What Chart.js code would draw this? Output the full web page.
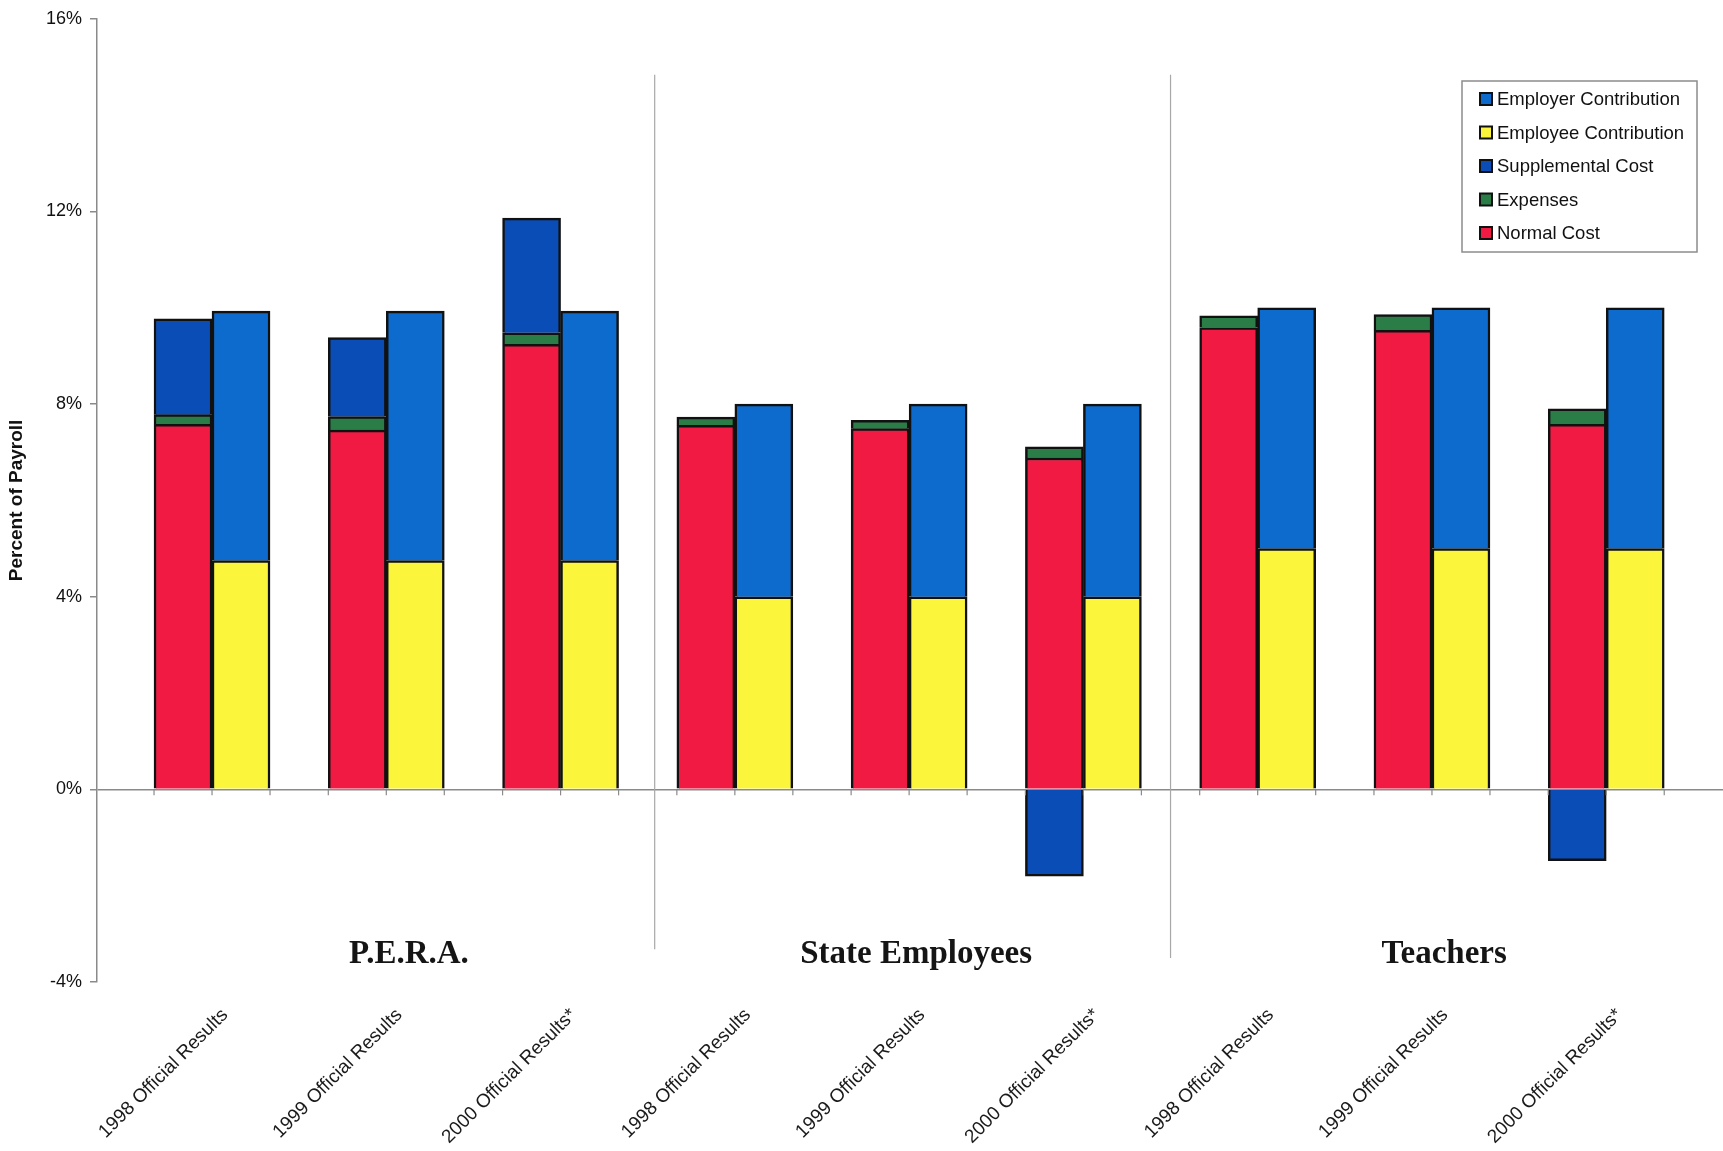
<!DOCTYPE html>
<html>
<head>
<meta charset="utf-8">
<title>Contribution Sufficiency</title>
<script src="https://cdn.jsdelivr.net/npm/chart.js@4.4.1/dist/chart.umd.min.js"></script>
<style>
  html, body { margin: 0; padding: 0; background: #fff; }
  #wrap { width: 1723px; height: 1151px; }
</style>
</head>
<body>
<div id="wrap"><canvas id="pension-chart"></canvas></div>
<script>
// values (percent of payroll)
const categories = [
  '1998 Official Results', '1999 Official Results', '2000 Official Results*',
  '1998 Official Results', '1999 Official Results', '2000 Official Results*',
  '1998 Official Results', '1999 Official Results', '2000 Official Results*'
];
const groupNames = ['P.E.R.A.', 'State Employees', 'Teachers'];

const normalCost   = [7.58, 7.46, 9.24, 7.56, 7.49, 6.88, 9.59, 9.53, 7.58];
const expenses     = [0.20, 0.28, 0.24, 0.17, 0.17, 0.23, 0.24, 0.33, 0.32];
const supplemental = [1.99, 1.64, 2.38, null, null, -1.80, null, null, -1.48];
const employeeContribution = [4.75, 4.75, 4.75, 4.00, 4.00, 4.00, 5.00, 5.00, 5.00];
const employerContribution = [5.18, 5.18, 5.18, 4.00, 4.00, 4.00, 5.00, 5.00, 5.00];
const yTicks = [-4, 0, 4, 8, 12, 16];

const toPoints = (arr) => arr
  .map((v, i) => ({ x: i, y: v }))
  .filter(p => p.y !== null);

Chart.defaults.font.family = '"Liberation Sans", Arial, sans-serif';
Chart.defaults.color = '#111';

const bar = (label, values, color, stack) => ({
  label,
  data: toPoints(values),
  backgroundColor: color,
  borderColor: '#111',
  borderWidth: 2.5,
  stack
});

// legend drawn as a framed box inside the plot, like the original
const legendBox = {
  id: 'legendBox',
  afterDraw(chart, args, opts) {
    const ctx = chart.ctx;
    ctx.save();
    ctx.strokeStyle = '#8c8c8c';
    ctx.lineWidth = 1.5;
    ctx.strokeRect(opts.left, opts.top, opts.width, opts.height);
    ctx.font = opts.font;
    ctx.textBaseline = 'middle';
    ctx.textAlign = 'left';
    const items = chart.data.datasets.slice().reverse();
    items.forEach((ds, i) => {
      const cy = opts.top + opts.firstRow + i * opts.rowGap;
      const mx = opts.left + opts.markerX;
      ctx.fillStyle = ds.backgroundColor;
      ctx.fillRect(mx, cy - 6, 12, 12);
      ctx.lineWidth = 2;
      ctx.strokeStyle = '#111';
      ctx.strokeRect(mx, cy - 6, 12, 12);
      ctx.fillStyle = '#111';
      ctx.fillText(ds.label, mx + 17, cy + 1);
    });
    ctx.restore();
  }
};

// group separators, group names and the little ticks on the zero line
const groupDecor = {
  id: 'groupDecor',
  afterDatasetsDraw(chart, args, opts) {
    const { ctx, scales: { x, y } } = chart;
    ctx.save();

    ctx.strokeStyle = '#a8a8a8';
    ctx.lineWidth = 1.2;
    opts.separators.forEach(s => {
      const px = x.getPixelForValue(s.at);
      ctx.beginPath();
      ctx.moveTo(px, y.getPixelForValue(s.from));
      ctx.lineTo(px, y.getPixelForValue(s.to));
      ctx.stroke();
    });

    const zero = y.getPixelForValue(0);
    ctx.strokeStyle = '#8a8a8a';
    const costBars = chart.getDatasetMeta(0).data;
    const contribBars = chart.getDatasetMeta(3).data;
    costBars.forEach((b, i) => {
      const c = contribBars[i];
      const edges = [b.x - b.width / 2, b.x + b.width / 2, c.x + c.width / 2];
      edges.forEach(ex => {
        ctx.beginPath();
        ctx.moveTo(ex, zero);
        ctx.lineTo(ex, zero + 6);
        ctx.stroke();
      });
    });

    ctx.fillStyle = '#151515';
    ctx.font = 'bold 33px "Liberation Serif", "Times New Roman", serif';
    ctx.textAlign = 'center';
    ctx.textBaseline = 'alphabetic';
    groupNames.forEach((name, i) => {
      ctx.fillText(name, x.getPixelForValue(opts.titleAt[i]), y.getPixelForValue(opts.titleY));
    });
    ctx.restore();
  }
};

new Chart(document.getElementById('pension-chart'), {
  type: 'bar',
  data: {
    datasets: [
      bar('Normal Cost', normalCost, '#F01A42', 'cost'),
      bar('Expenses', expenses, '#2B7D48', 'cost'),
      bar('Supplemental Cost', supplemental, '#0B4DB6', 'cost'),
      bar('Employee Contribution', employeeContribution, '#FBF53C', 'contrib'),
      bar('Employer Contribution', employerContribution, '#0D6BCD', 'contrib')
    ]
  },
  options: {
    responsive: true,
    maintainAspectRatio: false,
    animation: false,
    barThickness: 58,
    layout: { padding: { top: 16, right: 0, bottom: 0, left: 0 } },
    scales: {
      x: {
        type: 'linear',
        stacked: true,
        offset: false,
        min: -0.66,
        max: 8.67,
        grid: { display: false },
        border: { display: false },
        afterBuildTicks: (scale) => {
          scale.ticks = categories.map((_, i) => ({ value: i }));
        },
        ticks: {
          autoSkip: false,
          minRotation: 45,
          maxRotation: 45,
          labelOffset: 13,
          padding: 14,
          color: '#1a1a1a',
          font: { size: 19 },
          callback: (v) => categories[v]
        },
        afterFit: (scale) => { scale.height = 169; }
      },
      y: {
        stacked: true,
        min: -4,
        max: 16,
        afterBuildTicks: (scale) => {
          scale.ticks = yTicks.map(v => ({ value: v }));
        },
        ticks: {
          padding: 8,
          color: '#111',
          font: { size: 18 },
          callback: (v) => v + '%'
        },
        grid: {
          color: (c) => (c.tick && c.tick.value === 0 ? '#8a8a8a' : 'rgba(0,0,0,0)'),
          lineWidth: 1.5,
          tickColor: '#8a8a8a',
          tickLength: 7
        },
        border: { display: true, color: '#8a8a8a', width: 1.5 },
        title: {
          display: true,
          text: 'Percent of Payroll',
          color: '#111',
          font: { size: 19, weight: 'bold' },
          padding: { top: 5, bottom: 0 }
        },
        afterFit: (scale) => { scale.width = 97; }
      }
    },
    plugins: {
      legend: { display: false },
      tooltip: { enabled: false },
      legendBox: {
        left: 1462, top: 81, width: 235, height: 171,
        markerX: 18, firstRow: 18, rowGap: 33.5,
        font: '18.5px "Liberation Sans", Arial, sans-serif'
      },
      groupDecor: {
        separators: [
          { at: 2.54, from: 14.84, to: -3.32 },
          { at: 5.50, from: 14.84, to: -3.50 }
        ],
        titleAt: [1.13, 4.04, 7.07],
        titleY: -3.6
      }
    }
  },
  plugins: [groupDecor, legendBox]
});
</script>
</body>
</html>
